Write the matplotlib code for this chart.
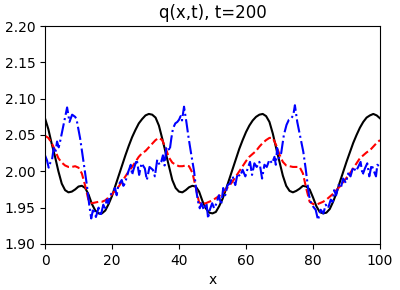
import matplotlib
matplotlib.use('Agg')
import matplotlib.pyplot as plt

# black solid curve, sampled at x = 0, 1, ..., 100
x_grid = list(range(0, 101))
q_black = [
    2.073, 2.058, 2.038, 2.020, 2.000, 1.983, 1.974, 1.971, 1.972, 1.975,
    1.979, 1.980, 1.977, 1.968, 1.955, 1.946, 1.942, 1.942, 1.946, 1.955,
    1.966, 1.980, 1.994, 2.008, 2.022, 2.035, 2.047, 2.057, 2.066, 2.072,
    2.077, 2.079, 2.078, 2.074, 2.063, 2.045, 2.026, 2.007, 1.988, 1.977,
    1.972, 1.971, 1.974, 1.978, 1.980, 1.979, 1.972, 1.959, 1.949, 1.943,
    1.942, 1.944, 1.952, 1.962, 1.975, 1.989, 2.003, 2.017, 2.031, 2.043,
    2.054, 2.063, 2.070, 2.075, 2.078, 2.079, 2.076, 2.068, 2.052, 2.032,
    2.013, 1.994, 1.980, 1.973, 1.971, 1.973, 1.976, 1.980, 1.979, 1.975,
    1.964, 1.952, 1.944, 1.942, 1.943, 1.948, 1.958, 1.970, 1.985, 1.999,
    2.013, 2.026, 2.039, 2.050, 2.060, 2.068, 2.074, 2.077, 2.079, 2.077,
    2.073,
]

# red dashed curve, same grid
q_red = [
    2.049, 2.046, 2.039, 2.029, 2.018, 2.012, 2.008, 2.006, 2.006, 2.007,
    2.005, 1.997, 1.980, 1.960, 1.956, 1.957, 1.958, 1.958, 1.960, 1.964,
    1.968, 1.974, 1.979, 1.986, 1.993, 2.000, 2.006, 2.013, 2.020, 2.025,
    2.028, 2.033, 2.038, 2.043, 2.046, 2.043, 2.032, 2.019, 2.012, 2.009,
    2.007, 2.007, 2.008, 2.007, 1.998, 1.978, 1.957, 1.955, 1.956, 1.958,
    1.960, 1.963, 1.966, 1.970, 1.975, 1.980, 1.986, 1.993, 2.000, 2.007,
    2.014, 2.020, 2.024, 2.028, 2.034, 2.039, 2.043, 2.046, 2.046, 2.036,
    2.023, 2.013, 2.008, 2.007, 2.006, 2.006, 2.006, 1.997, 1.976, 1.958,
    1.955, 1.954, 1.956, 1.958, 1.961, 1.965, 1.969, 1.974, 1.979, 1.985,
    1.991, 1.997, 2.004, 2.011, 2.018, 2.022, 2.026, 2.029, 2.034, 2.039,
    2.043,
]

# blue dash-dot curve (noisy), read point by point
x_blue = [
    0.0, 0.6, 1.1, 1.6, 2.1, 2.6, 3.1, 3.6, 4.1, 4.6, 5.3, 6.1, 6.6, 7.3,
    8.1, 9.0, 9.4, 10.5, 11.5, 12.5, 13.2, 13.8, 14.4, 15.2, 16.0, 16.5,
    16.9, 17.4, 17.9, 18.4, 18.9, 19.4, 20.2, 20.9, 21.4, 21.9, 22.9, 23.4,
    23.9, 24.9, 25.6, 26.0, 26.4, 27.4, 28.1, 28.8, 29.8, 30.4, 31.2, 32.2,
    32.8, 33.5,
    34.2, 34.7, 35.2, 35.7, 36.2, 36.7, 37.2, 37.7, 38.2, 38.9, 39.5, 40.0,
    40.5, 40.9, 41.5, 42.2, 42.9, 43.7, 44.5, 45.2, 45.7, 46.2, 46.7, 47.4,
    48.2, 48.7, 49.2, 49.9, 50.5, 51.2, 51.9, 52.6, 53.2, 53.8, 54.5, 55.2,
    56.0, 56.8, 57.5, 58.2, 59.0, 59.8, 60.5, 61.2, 61.8, 62.5, 63.2, 64.0,
    64.8, 65.5, 66.2, 67.0, 67.8, 68.5,
    68.9, 69.3, 69.8, 70.5, 71.3, 72.1, 72.8, 73.5, 74.1, 74.6, 75.3, 76.1,
    77.1, 77.8, 78.3, 78.8, 79.3, 80.1, 80.8, 81.5, 82.3, 83.1, 83.8, 84.5,
    85.3, 85.9, 86.3, 86.9, 87.6, 88.3, 89.0, 89.8, 90.5, 91.2, 92.0, 92.8,
    93.5, 94.2, 94.8, 95.5, 96.2, 96.8, 97.5, 98.2, 98.8, 99.2, 100.0,
]
q_blue = [
    2.022, 2.015, 2.005, 2.012, 2.016, 2.032, 2.026, 2.041, 2.033, 2.043,
    2.059, 2.077, 2.088, 2.068, 2.078, 2.075, 2.072, 2.045, 2.013, 1.981,
    1.954, 1.935, 1.949, 1.937, 1.950, 1.938, 1.944, 1.954, 1.947, 1.961,
    1.956, 1.967, 1.971, 1.977, 1.967, 1.981, 1.988, 1.980, 1.984, 2.000,
    2.009, 1.995, 2.002, 2.016, 1.995, 2.011, 2.004, 1.988, 2.006, 2.002,
    1.993, 2.016,
    2.009, 2.013, 2.022, 2.008, 2.032, 2.034, 2.028, 2.045, 2.059, 2.066,
    2.068, 2.071, 2.076, 2.070, 2.089, 2.068, 2.045, 2.022, 2.000, 1.972,
    1.958, 1.949, 1.956, 1.947, 1.956, 1.935, 1.947, 1.956, 1.949, 1.956,
    1.967, 1.954, 1.977, 1.967, 1.981, 1.983, 1.993, 1.981, 1.997, 1.993,
    2.002, 1.993, 2.004, 2.013, 1.995, 2.011, 2.006, 2.013, 1.990, 2.009,
    2.006, 2.016, 2.011, 2.020,
    2.009, 2.032, 2.018, 2.025, 2.050, 2.064, 2.071, 2.073, 2.077, 2.091,
    2.068, 2.050, 2.027, 2.004, 1.986, 1.967, 1.958, 1.951, 1.947, 1.933,
    1.947, 1.942, 1.954, 1.949, 1.961, 1.958, 1.974, 1.967, 1.981, 1.977,
    1.990, 1.984, 1.997, 1.993, 2.006, 2.000, 2.006, 2.013, 1.995, 2.004,
    2.011, 1.993, 2.009, 2.000, 1.993, 2.009, 2.006,
]

fig = plt.figure(figsize=(4.0, 2.9), dpi=100)
ax = fig.add_axes([0.1125, 0.159, 0.8375, 0.751])

ax.plot(x_grid, q_black, color='black', linewidth=1.5)
ax.plot(x_grid, q_red, color='red', linestyle='--', linewidth=1.5)
ax.plot(x_blue, q_blue, color='blue', linestyle='-.', linewidth=1.5)

ax.set_xlim(0, 100)
ax.set_ylim(1.90, 2.20)
ax.set_yticks([1.90, 1.95, 2.00, 2.05, 2.10, 2.15, 2.20])
ax.set_xlabel('x')
ax.set_title('q(x,t), t=200')

fig.savefig('out.png', dpi=100)
